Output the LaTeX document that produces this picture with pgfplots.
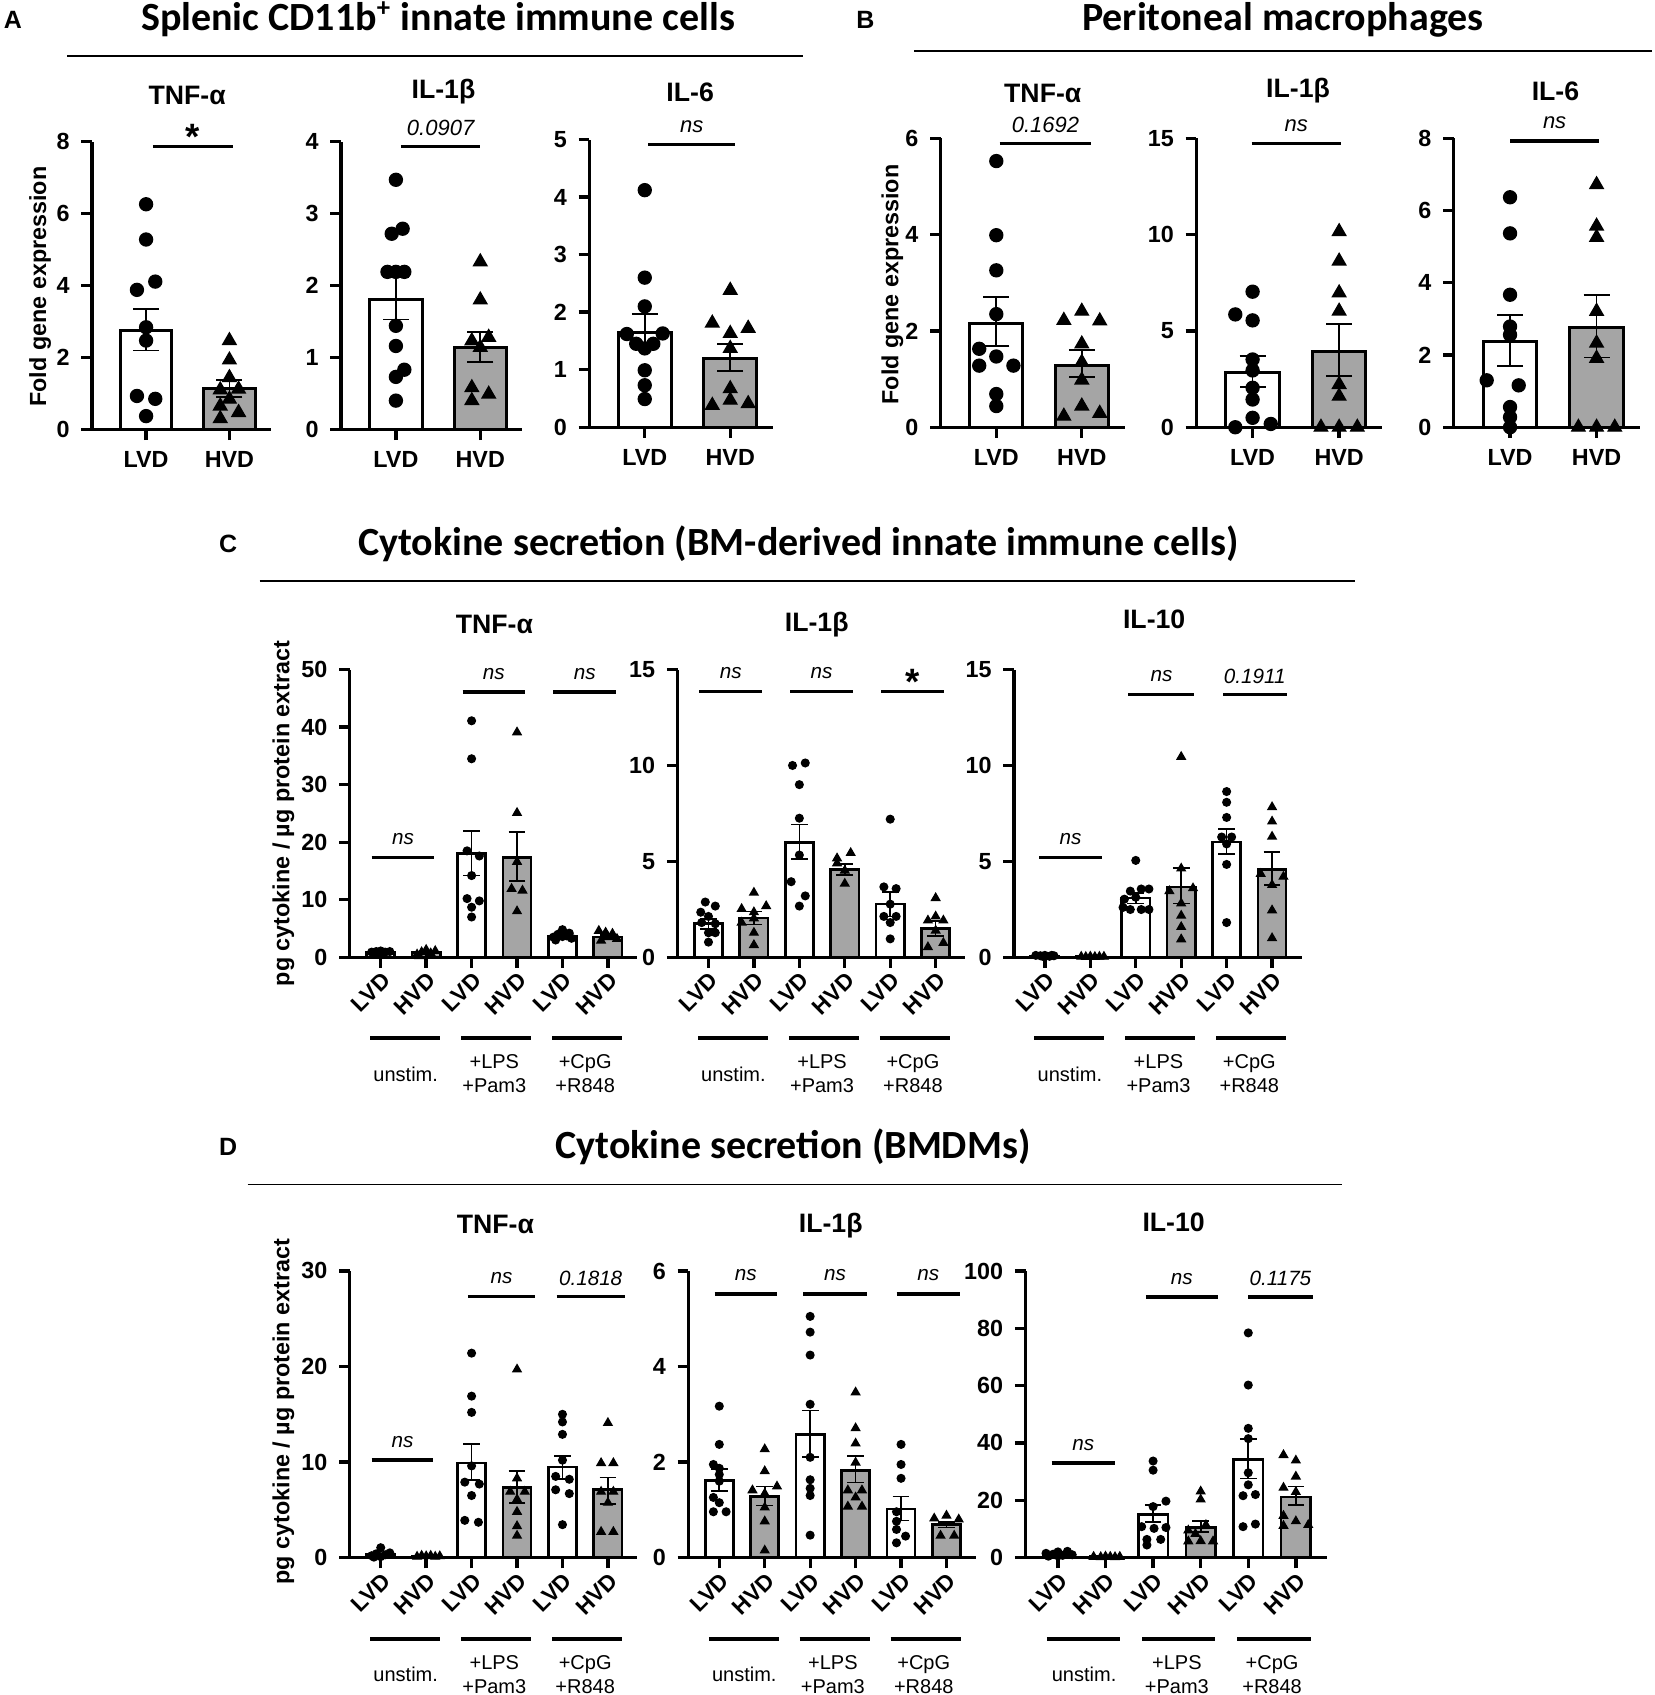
\documentclass[border=0pt]{standalone}
\usepackage{fontspec}
\setmainfont{Liberation Sans}
\newfontfamily\carlito{Carlito}
\usepackage{pgfplots}
\pgfplotsset{compat=1.18}
\newlength\pxu
\setlength\pxu{0.3245pt}
\definecolor{barg}{RGB}{165,165,165}

\pgfplotsset{
  gp/.style={scale only axis, clip=false, anchor=south west,
    axis x line=bottom, axis y line=left,
    axis line style={-, line width=1pt},
    tick align=outside, major tick length=3.2pt,
    tick style={black, line width=1pt},
    ymin=0, scaled y ticks=false,
    ticklabel style={font=\fontsize{7}{8}\selectfont\bfseries},
    /pgf/number format/assume math mode=true},
  gpa/.style={gp, xmin=-0.65, xmax=1.5, xtick={0,1}, xticklabels={LVD,HVD}, height=266\pxu},
  gpc/.style={gp, xmin=-0.68, xmax=5.65, xtick={0,...,5},
    xticklabels={LVD,HVD,LVD,HVD,LVD,HVD},
    xticklabel style={rotate=45, anchor=north east, inner sep=0.5pt, font=\fontsize{6.8}{8}\selectfont\bfseries},
    height=266\pxu, width=265.9\pxu},
  lb/.style={ybar, bar width=0.62, bar shift=0pt, fill=white, draw=black, line width=0.9pt,
    error bars/y dir=both, error bars/y explicit,
    error bars/error bar style={line width=0.5pt},
    error bars/error mark options={rotate=90, line width=0.5pt, mark size=3.9pt}},
  hb/.style={lb, fill=barg},
  lc/.style={lb, line width=0.8pt, error bars/error mark options={rotate=90, line width=0.5pt, mark size=2.5pt}},
  hc/.style={lc, fill=barg},
  pa/.style={only marks, mark=*, mark size=1.95pt, black},
  ta/.style={only marks, mark=triangle*, mark size=2.3pt, black},
  pc/.style={only marks, mark=*, mark size=1.15pt, black},
  tc/.style={only marks, mark=triangle*, mark size=1.4pt, black},
}
\newcommand\sigfont{\fontsize{6.6}{8}\selectfont\itshape}
\newcommand\sig[4]{\draw[line width=1pt] (axis cs:#1,#3) -- (axis cs:#2,#3)
  node[midway, yshift=17\pxu, font=\sigfont] {#4};}
\newcommand\sigs[3]{\draw[line width=1pt] (axis cs:#1,#3) -- (axis cs:#2,#3)
  node[midway, yshift=9\pxu, font=\fontsize{11}{11}\selectfont\bfseries] {*};}
\newcommand\grp[1]{%
  \draw[line width=1.3pt] ([yshift=-#1\pxu]axis cs:-0.23,0) -- ([yshift=-#1\pxu]axis cs:1.31,0);
  \draw[line width=1.3pt] ([yshift=-#1\pxu]axis cs:1.77,0) -- ([yshift=-#1\pxu]axis cs:3.31,0);
  \draw[line width=1.3pt] ([yshift=-#1\pxu]axis cs:3.77,0) -- ([yshift=-#1\pxu]axis cs:5.31,0);
  \node[align=center, font=\fontsize{6}{7.2}\selectfont] at ([yshift=-108\pxu]axis cs:0.55,0) {unstim.};
  \node[align=center, font=\fontsize{6}{7.2}\selectfont] at ([yshift=-108\pxu]axis cs:2.5,0) {+LPS\\+Pam3};
  \node[align=center, font=\fontsize{6}{7.2}\selectfont] at ([yshift=-108\pxu]axis cs:4.5,0) {+CpG\\+R848};
}

\begin{document}
\begin{tikzpicture}
\useasboundingbox (0,0) rectangle (1530\pxu,1567\pxu);

% ---------- headers ----------
\begin{scope}[font=\fontsize{7.5}{9}\selectfont\bfseries]
\node at (12\pxu,1549\pxu) {A};
\node at (800\pxu,1549\pxu) {B};
\node at (211\pxu,1064\pxu) {C};
\node at (211\pxu,507\pxu) {D};
\end{scope}
\begin{scope}[font=\carlito\fontsize{12}{14}\selectfont\bfseries]
\node at (405\pxu,1549\pxu) {Splenic CD11b\textsuperscript{+} innate immune cells};
\node at (1186\pxu,1549\pxu) {Peritoneal macrophages};
\node at (738\pxu,1064\pxu) {Cytokine secretion (BM-derived innate immune cells)};
\node at (733\pxu,507\pxu) {Cytokine secretion (BMDMs)};
\end{scope}
\draw[line width=0.5pt] (62\pxu,1515\pxu) -- (742\pxu,1515\pxu);
\draw[line width=0.5pt] (845\pxu,1520\pxu) -- (1527\pxu,1520\pxu);
\draw[line width=0.5pt] (240\pxu,1030\pxu) -- (1253\pxu,1030\pxu);
\draw[line width=0.5pt] (229\pxu,472\pxu) -- (1241\pxu,472\pxu);
\begin{scope}[font=\fontsize{8}{9}\selectfont\bfseries]
\node at (173\pxu,1479\pxu) {TNF-α};
\node at (410\pxu,1482\pxu) {IL-1β};
\node at (638\pxu,1482\pxu) {IL-6};
\node at (964\pxu,1481\pxu) {TNF-α};
\node at (1200\pxu,1483\pxu) {IL-1β};
\node at (1438\pxu,1483\pxu) {IL-6};
\node at (457\pxu,990\pxu) {TNF-α};
\node at (755\pxu,990\pxu) {IL-1β};
\node at (1067\pxu,994\pxu) {IL-10};
\node at (458\pxu,435\pxu) {TNF-α};
\node at (768\pxu,434\pxu) {IL-1β};
\node at (1085\pxu,437\pxu) {IL-10};
\end{scope}
\begin{scope}[font=\fontsize{7}{8}\selectfont\bfseries]
\node[rotate=90] at (37\pxu,1302\pxu) {Fold gene expression};
\node[rotate=90] at (825\pxu,1304\pxu) {Fold gene expression};
\node[rotate=90] at (262\pxu,815\pxu) {pg cytokine / µg protein extract};
\node[rotate=90] at (262\pxu,262\pxu) {pg cytokine / µg protein extract};
\end{scope}

% ---------- A ----------
\begin{axis}[gpa, at={(85\pxu,1170\pxu)}, width=165.6\pxu, ymax=8, ytick={0,2,4,6,8}]
\addplot[lb] coordinates {(0,2.74) += (0,0.61) -= (0,0.55)};
\addplot[hb] coordinates {(1,1.13) += (0,0.25) -= (0,0.22)};
\addplot[pa] coordinates {(0,6.26)(0,5.28)(0.11,4.11)(-0.11,3.88)(0,2.84)(0,2.47)(-0.11,0.93)(0.11,0.85)(0,0.37)};
\addplot[ta] coordinates {(1,2.47)(1,1.93)(1,1.44)(0.89,1.1)(1.11,1.12)(1,0.84)(0.89,0.65)(1.11,0.47)(0.89,0.30)};
\sigs{0.08}{1.04}{7.86}
\end{axis}

\begin{axis}[gpa, at={(315.3\pxu,1170\pxu)}, width=167.7\pxu, ymax=4, ytick={0,...,4}]
\addplot[lb] coordinates {(0,1.81) += (0,0.31) -= (0,0.28)};
\addplot[hb] coordinates {(1,1.14) += (0,0.21) -= (0,0.20)};
\addplot[pa] coordinates {(0,3.47)(-0.05,2.72)(0.08,2.79)(-0.1,2.19)(0,2.19)(0.1,2.19)(0,1.44)(0,1.16)(0.1,0.83)(0,0.73)(0,0.40)};
\addplot[ta] coordinates {(1,2.33)(1,1.80)(0.9,1.23)(1.1,1.28)(1,1.14)(0.9,0.58)(1.1,0.49)(0.9,0.40)};
\sig{0.06}{1.0}{3.93}{0.0907}
\end{axis}

\begin{axis}[gpa, at={(544.7\pxu,1172\pxu)}, width=169.9\pxu, ymax=5, ytick={0,...,5}]
\addplot[lb] coordinates {(0,1.65) += (0,0.32) -= (0,0.28)};
\addplot[hb] coordinates {(1,1.19) += (0,0.26) -= (0,0.21)};
\addplot[pa] coordinates {(0,4.12)(0,2.60)(0,2.10)(-0.21,1.62)(0.21,1.63)(-0.1,1.45)(0.1,1.45)(0,1.37)(0,0.99)(0,0.73)(0,0.49)};
\addplot[ta] coordinates {(1,2.38)(0.79,1.81)(1,1.63)(1.21,1.72)(1,1.37)(1,0.67)(1,0.47)(0.79,0.38)(1.21,0.41)};
\sig{0.04}{1.06}{4.91}{ns}
\end{axis}

% ---------- B ----------
\begin{axis}[gpa, at={(869.7\pxu,1172\pxu)}, width=169.9\pxu, height=267\pxu, ymax=6, ytick={0,2,4,6}]
\addplot[lb] coordinates {(0,2.15) += (0,0.56) -= (0,0.46)};
\addplot[hb] coordinates {(1,1.29) += (0,0.32) -= (0,0.24)};
\addplot[pa] coordinates {(0,5.53)(0,3.99)(0,3.26)(0,2.35)(-0.2,1.63)(0,1.47)(-0.2,1.28)(0.2,1.28)(0,0.69)(0,0.44)};
\addplot[ta] coordinates {(1,2.41)(0.79,2.22)(1.21,2.21)(1,1.73)(1,1.35)(1,0.98)(1,0.44)(0.79,0.23)(1.21,0.29)};
\sig{0.04}{1.11}{5.9}{0.1692}
\end{axis}

\begin{axis}[gpa, at={(1106\pxu,1172\pxu)}, width=172\pxu, height=267\pxu, ymax=15, ytick={0,5,10,15}]
\addplot[lb] coordinates {(0,2.86) += (0,0.83) -= (0,0.76)};
\addplot[hb] coordinates {(1,3.95) += (0,1.42) -= (0,1.30)};
\addplot[pa] coordinates {(-0.2,5.86)(0,5.55)(0,7.04)(0,3.52)(0,2.95)(0,2.05)(0,1.44)(0,0.49)(0.21,0.17)(-0.2,0.0)};
\addplot[ta] coordinates {(1,10.16)(1,8.63)(1,6.98)(1,6.03)(1,2.22)(1,1.61)(0.79,0)(1,0)(1.21,0)};
\sig{-0.01}{1.02}{14.72}{ns}
\end{axis}

\begin{axis}[gpa, at={(1344\pxu,1172\pxu)}, width=172\pxu, height=267\pxu, ymax=8, ytick={0,2,4,6,8}]
\addplot[lb] coordinates {(0,2.37) += (0,0.73) -= (0,0.67)};
\addplot[hb] coordinates {(1,2.76) += (0,0.90) -= (0,0.83)};
\addplot[pa] coordinates {(0,6.37)(0,5.37)(0,3.67)(0,2.79)(0,2.56)(-0.27,1.30)(0.1,1.16)(0,0.56)(0,0.28)(0,0)};
\addplot[ta] coordinates {(1,6.72)(1,5.57)(1,5.26)(1,3.21)(1,2.33)(1,1.91)(0.79,0)(1,0)(1.21,0)};
\sig{0}{1.03}{7.93}{ns}
\end{axis}

% ---------- C ----------
\renewcommand\sigfont{\fontsize{6.2}{7.5}\selectfont\itshape}
\begin{axis}[gpc, at={(323.4\pxu,682\pxu)}, ymax=50, ytick={0,10,...,50}]
\addplot[lc] coordinates {(0,0.9) +- (0,0.1) (2,18.0) += (0,4.0) -= (0,3.8) (4,3.7) +- (0,0.35)};
\addplot[hc] coordinates {(1,0.8) +- (0,0.15) (3,17.3) += (0,4.5) -= (0,4.1) (5,3.5) +- (0,0.35)};
\addplot[pc] coordinates {(-0.2,0.9)(-0.1,1.0)(0,1.1)(0.1,0.9)(0.2,1.0)(0,0.7)(-0.15,0.6)
  (2,41.1)(2,34.5)(1.9,18.5)(2.17,17.6)(2,14.2)(1.9,10.2)(2.17,9.8)(2,8.7)(2,7.0)
  (3.8,3.5)(3.9,4.0)(4,4.8)(4.1,3.7)(4.2,3.3)(3.85,3.0)(4.15,4.2)(4,3.6)};
\addplot[tc] coordinates {(0.8,0.5)(0.9,0.9)(1,1.3)(1.1,0.7)(1.2,1.1)(1.05,0.3)(0.85,0.2)
  (3,39.1)(3,25.1)(3,16.6)(2.88,11.9)(3.12,11.6)(3,8.0)
  (4.8,4.6)(4.95,4.3)(5.1,4.1)(5.2,3.2)(5,3.5)(4.85,2.9)};
\sig{-0.2}{1.18}{17.3}{ns}
\sig{1.8}{3.18}{46.1}{ns}
\sig{3.8}{5.18}{46.1}{ns}
\grp{74.5}
\end{axis}

\begin{axis}[gpc, at={(626.4\pxu,682\pxu)}, ymax=15, ytick={0,5,10,15}]
\addplot[lc] coordinates {(0,1.75) += (0,0.25) -= (0,0.26) (2,5.97) += (0,0.96) -= (0,0.85) (4,2.77) +- (0,0.64)};
\addplot[hc] coordinates {(1,2.05) +- (0,0.34) (3,4.58) += (0,0.30) -= (0,0.28) (5,1.49) += (0,0.39) -= (0,0.38)};
\addplot[pc] coordinates {(-0.07,2.88)(0.15,2.67)(-0.17,2.35)(0,2.13)(-0.15,1.81)(0.15,1.75)(0,1.28)(0.15,1.28)(0,0.79)
  (1.85,10.0)(2.13,10.13)(2,9.0)(2,7.25)(2,5.33)(1.82,3.94)(2.13,3.20)(2,2.67)
  (4,7.2)(3.86,3.67)(4.13,3.58)(4,2.77)(3.86,2.13)(4.13,2.13)(4,1.81)(4,0.96)};
\addplot[tc] coordinates {(1,3.37)(0.73,2.52)(1.27,2.67)(1,2.35)(1,2.03)(0.73,1.81)(1,1.28)(1,0.64)
  (2.83,5.16)(3.13,5.44)(3,4.52)(2.83,4.9)(3,3.84)
  (5,3.09)(5,2.13)(4.83,1.92)(5.17,1.92)(5,1.39)(4.83,0.53)(5.17,0.75)};
\sig{-0.2}{1.18}{13.86}{ns}
\sig{1.8}{3.18}{13.86}{ns}
\sigs{3.8}{5.18}{13.86}
\grp{74.5}
\end{axis}

\begin{axis}[gpc, at={(937.4\pxu,682\pxu)}, ymax=15, ytick={0,5,10,15}]
\addplot[lc] coordinates {(0,0.07) +- (0,0.02) (2,3.09) += (0,0.26) -= (0,0.28) (4,6.01) += (0,0.69) -= (0,0.64)};
\addplot[hc] coordinates {(1,0.03) +- (0,0.01) (3,3.67) += (0,1.0) -= (0,0.86) (5,4.58) += (0,0.9) -= (0,0.81)};
\addplot[pc] coordinates {(-0.2,0.1)(-0.1,0.08)(0,0.1)(0.1,0.05)(0.2,0.08)(-0.05,0.05)(0.15,0.1)
  (2,5.05)(1.88,3.45)(2.12,3.56)(2.29,3.56)(1.75,3.03)(2,3.13)(1.72,2.6)(1.88,2.49)(2.12,2.49)(2.29,2.49)
  (4,8.64)(4,8.08)(4,7.29)(3.89,6.27)(4.11,6.27)(4,5.91)(4,4.84)(4,1.81)};
\addplot[tc] coordinates {(0.8,0.03)(0.9,0.02)(1,0.04)(1.1,0.02)(1.2,0.03)(1.3,0.03)
  (3,10.45)(3,4.63)(3.26,3.6)(2.74,3.45)(3,2.81)(3,2.17)(3,1.58)(3,0.94)
  (5,7.83)(5,7.08)(5,6.29)(4.75,4.35)(5.25,4.2)(5,3.77)(5,2.45)(5,1.0)};
\sig{-0.12}{1.25}{5.2}{ns}
\sig{1.84}{3.29}{13.69}{ns}
\sig{3.92}{5.32}{13.69}{0.1911}
\grp{74.5}
\end{axis}

% ---------- D ----------
\begin{axis}[gpc, at={(323.4\pxu,127\pxu)}, height=265\pxu, ymax=30, ytick={0,10,20,30}]
\addplot[lc] coordinates {(0,0.3) +- (0,0.12) (2,9.9) += (0,2.0) -= (0,1.8) (4,9.47) += (0,1.15) -= (0,1.22)};
\addplot[hc] coordinates {(1,0.15) +- (0,0.04) (3,7.36) += (0,1.74) -= (0,1.61) (5,7.1) += (0,1.3) -= (0,1.5)};
\addplot[pc] coordinates {(-0.2,0.2)(-0.1,0.4)(0,1.04)(0.1,0.3)(0.2,0.5)(0,0.1)(-0.15,0.05)
  (2,21.4)(2,16.9)(2,15.2)(2,9.6)(1.85,7.9)(2.17,7.7)(2,6.5)(1.85,3.9)(2.15,3.7)
  (4,15.0)(4,14.2)(4,12.9)(4,10.2)(3.85,8.5)(4.15,8.2)(3.85,7.1)(4.15,6.7)(4,3.45)};
\addplot[tc] coordinates {(0.8,0.1)(0.9,0.2)(1,0.15)(1.1,0.2)(1.2,0.1)(1.3,0.15)
  (3,19.7)(2.85,6.9)(3.17,6.9)(3,6.1)(3,4.8)(3,3.3)(3,2.3)(3,8.3)
  (5,14.1)(4.85,9.9)(5.12,9.9)(4.85,6.9)(5.12,6.9)(5,5.75)(4.85,2.7)(5.12,2.7)};
\sig{-0.2}{1.16}{10.2}{ns}
\sig{1.92}{3.4}{27.3}{ns}
\sig{3.87}{5.37}{27.3}{0.1818}
\grp{75}
\end{axis}

\begin{axis}[gpc, at={(636.4\pxu,127\pxu)}, height=265\pxu, ymax=6, ytick={0,2,4,6}]
\addplot[lc] coordinates {(0,1.61) += (0,0.25) -= (0,0.21) (2,2.58) += (0,0.5) -= (0,0.48) (4,1.02) += (0,0.26) -= (0,0.24)};
\addplot[hc] coordinates {(1,1.28) += (0,0.21) -= (0,0.19) (3,1.83) += (0,0.3) -= (0,0.26) (5,0.69) +- (0,0.06)};
\addplot[pc] coordinates {(0,3.17)(0,2.37)(-0.13,1.95)(0,1.87)(0,1.74)(0,1.6)(-0.13,1.26)(0,1.15)(-0.13,0.96)(0.15,0.96)
  (2,5.05)(2,4.72)(2,4.24)(2,3.21)(2,2.1)(2,1.63)(2,1.45)(2,1.3)(2,0.47)
  (4,2.37)(4,1.95)(4,1.66)(3.9,0.96)(3.9,0.76)(3.9,0.59)(3.9,0.31)(4.1,0.45)};
\addplot[tc] coordinates {(1,2.27)(1,1.81)(0.73,1.41)(1.27,1.49)(1,1.34)(1,1.05)(1,0.76)(1,0.15)
  (3,3.46)(3,2.71)(3,2.39)(3,1.99)(2.83,1.41)(3.14,1.41)(3,1.26)(2.83,1.07)(3.14,1.07)
  (4.73,0.82)(5,0.88)(5.27,0.8)(4.87,0.46)(5.17,0.46)};
\sig{-0.1}{1.27}{5.52}{ns}
\sig{1.85}{3.25}{5.52}{ns}
\sig{3.9}{5.3}{5.52}{ns}
\grp{75}
\end{axis}

\begin{axis}[gpc, at={(948.1\pxu,127\pxu)}, height=265\pxu, width=278.5\pxu, ymax=100, ytick={0,20,...,100}]
\addplot[lc] coordinates {(0,1.2) +- (0,0.25) (2,15.0) += (0,3.4) -= (0,2.5) (4,34.3) += (0,7.2) -= (0,6.7)};
\addplot[hc] coordinates {(1,0.3) +- (0,0.05) (3,10.4) += (0,2.3) -= (0,1.5) (5,21.2) += (0,3.6) -= (0,2.8)};
\addplot[pc] coordinates {(-0.25,1.5)(-0.1,1.2)(0,2.0)(0.1,0.8)(0.2,2.2)(0.3,1.0)(-0.2,0.5)(0,0.6)
  (2,33.7)(2,30.5)(2.27,19.7)(2,17.8)(1.76,10.8)(2.02,10.2)(2.27,10.5)(1.87,6.35)(2.16,6.35)(1.87,4.4)
  (4,78.4)(4,60.2)(4,45.1)(4,41.5)(4,29.6)(4,25.4)(3.89,21.6)(4.15,22.0)(3.89,10.8)(4.15,11.7)};
\addplot[tc] coordinates {(0.75,0.3)(0.9,0.2)(1,0.4)(1.1,0.3)(1.2,0.2)(1.3,0.3)
  (3,23.1)(3,20.3)(2.74,9.5)(3.11,11.4)(2.89,8.3)(3.26,5.7)(2.74,5.7)(3,5.8)
  (4.74,35.8)(5,33.9)(5,28.3)(4.74,24.4)(5,22.9)(4.74,14.6)(4.74,11.1)(5,12.7)(5.26,11.4)};
\sig{-0.13}{1.2}{33}{ns}
\sig{1.85}{3.36}{90.9}{ns}
\sig{4.0}{5.35}{90.9}{0.1175}
\grp{75}
\end{axis}
\end{tikzpicture}
\end{document}
